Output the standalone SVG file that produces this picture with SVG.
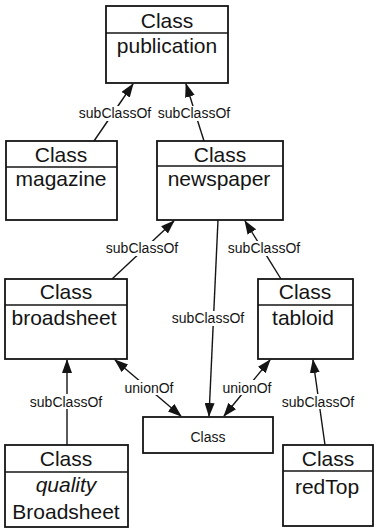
<svg xmlns="http://www.w3.org/2000/svg" width="376" height="530" viewBox="0 0 376 530">
  <style>
    .box { fill: #ffffff; stroke: #141414; stroke-width: 1.8; }
    .div { stroke: #141414; stroke-width: 1.6; }
    .hdr { font-family: "Liberation Sans", Arial, sans-serif; font-size: 21px; fill: #141414; text-anchor: middle; }
    .nm { font-family: "Liberation Sans", Arial, sans-serif; font-size: 21px; fill: #141414; text-anchor: middle; }
    .it { font-style: italic; }
    .edge { stroke: #141414; stroke-width: 1.4; fill: none; }
    .lbl { font-family: "Liberation Sans", Arial, sans-serif; font-size: 14px; fill: #141414; text-anchor: middle; }
    .bg { fill: #ffffff; }
  </style>
  <defs>
    <marker id="arrow" viewBox="0 0 14 10" refX="13" refY="5" markerWidth="14" markerHeight="10" markerUnits="userSpaceOnUse" orient="auto-start-reverse">
      <path d="M0,0 L14,5 L0,10 Z" fill="#141414"/>
    </marker>
  </defs>

  <!-- connectors -->
  <g id="connectors">
    <line class="edge" x1="94" y1="141" x2="133" y2="84" marker-end="url(#arrow)"/>
    <rect class="bg" x="78" y="106" width="75" height="15"/>
    <text class="lbl" x="115" y="118">subClassOf</text>

    <line class="edge" x1="204" y1="141" x2="186" y2="84" marker-end="url(#arrow)"/>
    <rect class="bg" x="157" y="106" width="75" height="15"/>
    <text class="lbl" x="194" y="118">subClassOf</text>

    <line class="edge" x1="112" y1="279" x2="174" y2="221" marker-end="url(#arrow)"/>
    <rect class="bg" x="105" y="241" width="75" height="15"/>
    <text class="lbl" x="142" y="253">subClassOf</text>

    <line class="edge" x1="281" y1="279" x2="245" y2="221" marker-end="url(#arrow)"/>
    <rect class="bg" x="227" y="241" width="75" height="15"/>
    <text class="lbl" x="264" y="253">subClassOf</text>

    <line class="edge" x1="218" y1="220" x2="209" y2="416" marker-end="url(#arrow)"/>
    <rect class="bg" x="171" y="311" width="73" height="15"/>
    <text class="lbl" x="208" y="323">subClassOf</text>

    <line class="edge" x1="115" y1="360" x2="181" y2="416" marker-start="url(#arrow)" marker-end="url(#arrow)"/>
    <rect class="bg" x="124" y="380" width="51" height="15"/>
    <text class="lbl" x="149" y="393">unionOf</text>

    <line class="edge" x1="270" y1="360" x2="224" y2="416" marker-start="url(#arrow)" marker-end="url(#arrow)"/>
    <rect class="bg" x="221" y="380" width="51" height="15"/>
    <text class="lbl" x="247" y="393">unionOf</text>

    <line class="edge" x1="67" y1="445" x2="67" y2="360" marker-end="url(#arrow)"/>
    <rect class="bg" x="28" y="394" width="76" height="15"/>
    <text class="lbl" x="66" y="407">subClassOf</text>

    <line class="edge" x1="325" y1="445" x2="313" y2="360" marker-end="url(#arrow)"/>
    <rect class="bg" x="280" y="394" width="76" height="15"/>
    <text class="lbl" x="318" y="407">subClassOf</text>
  </g>

  <!-- class nodes -->
  <g id="publication">
    <rect class="box" x="106" y="6" width="122" height="77"/>
    <line class="div" x1="106" y1="33" x2="228" y2="33"/>
    <text class="hdr" x="167" y="28">Class</text>
    <text class="nm" x="167" y="53">publication</text>
  </g>

  <g id="magazine">
    <rect class="box" x="6" y="141" width="111" height="79"/>
    <line class="div" x1="6" y1="167" x2="117" y2="167"/>
    <text class="hdr" x="61" y="162">Class</text>
    <text class="nm" x="61" y="186">magazine</text>
  </g>

  <g id="newspaper">
    <rect class="box" x="157" y="141" width="126" height="79"/>
    <line class="div" x1="157" y1="166" x2="283" y2="166"/>
    <text class="hdr" x="220" y="162">Class</text>
    <text class="nm" x="219" y="186">newspaper</text>
  </g>

  <g id="broadsheet">
    <rect class="box" x="5" y="279" width="122" height="80"/>
    <line class="div" x1="5" y1="305" x2="127" y2="305"/>
    <text class="hdr" x="66" y="299">Class</text>
    <text class="nm" x="64" y="325">broadsheet</text>
  </g>

  <g id="tabloid">
    <rect class="box" x="258" y="279" width="95" height="80"/>
    <line class="div" x1="258" y1="305" x2="353" y2="305"/>
    <text class="hdr" x="305" y="299">Class</text>
    <text class="nm" x="303" y="325">tabloid</text>
  </g>

  <g id="union">
    <rect class="box" x="143" y="417" width="130" height="36"/>
    <text class="lbl" x="208" y="442">Class</text>
  </g>

  <g id="qualityBroadsheet">
    <rect class="box" x="5" y="445" width="123" height="82"/>
    <line class="div" x1="5" y1="472" x2="128" y2="472"/>
    <text class="hdr" x="66" y="466">Class</text>
    <text class="nm it" x="66" y="492">quality</text>
    <text class="nm" x="66" y="519">Broadsheet</text>
  </g>

  <g id="redTop">
    <rect class="box" x="283" y="445" width="90" height="81"/>
    <line class="div" x1="283" y1="471" x2="373" y2="471"/>
    <text class="hdr" x="328" y="466">Class</text>
    <text class="nm" x="327" y="494">redTop</text>
  </g>
</svg>
